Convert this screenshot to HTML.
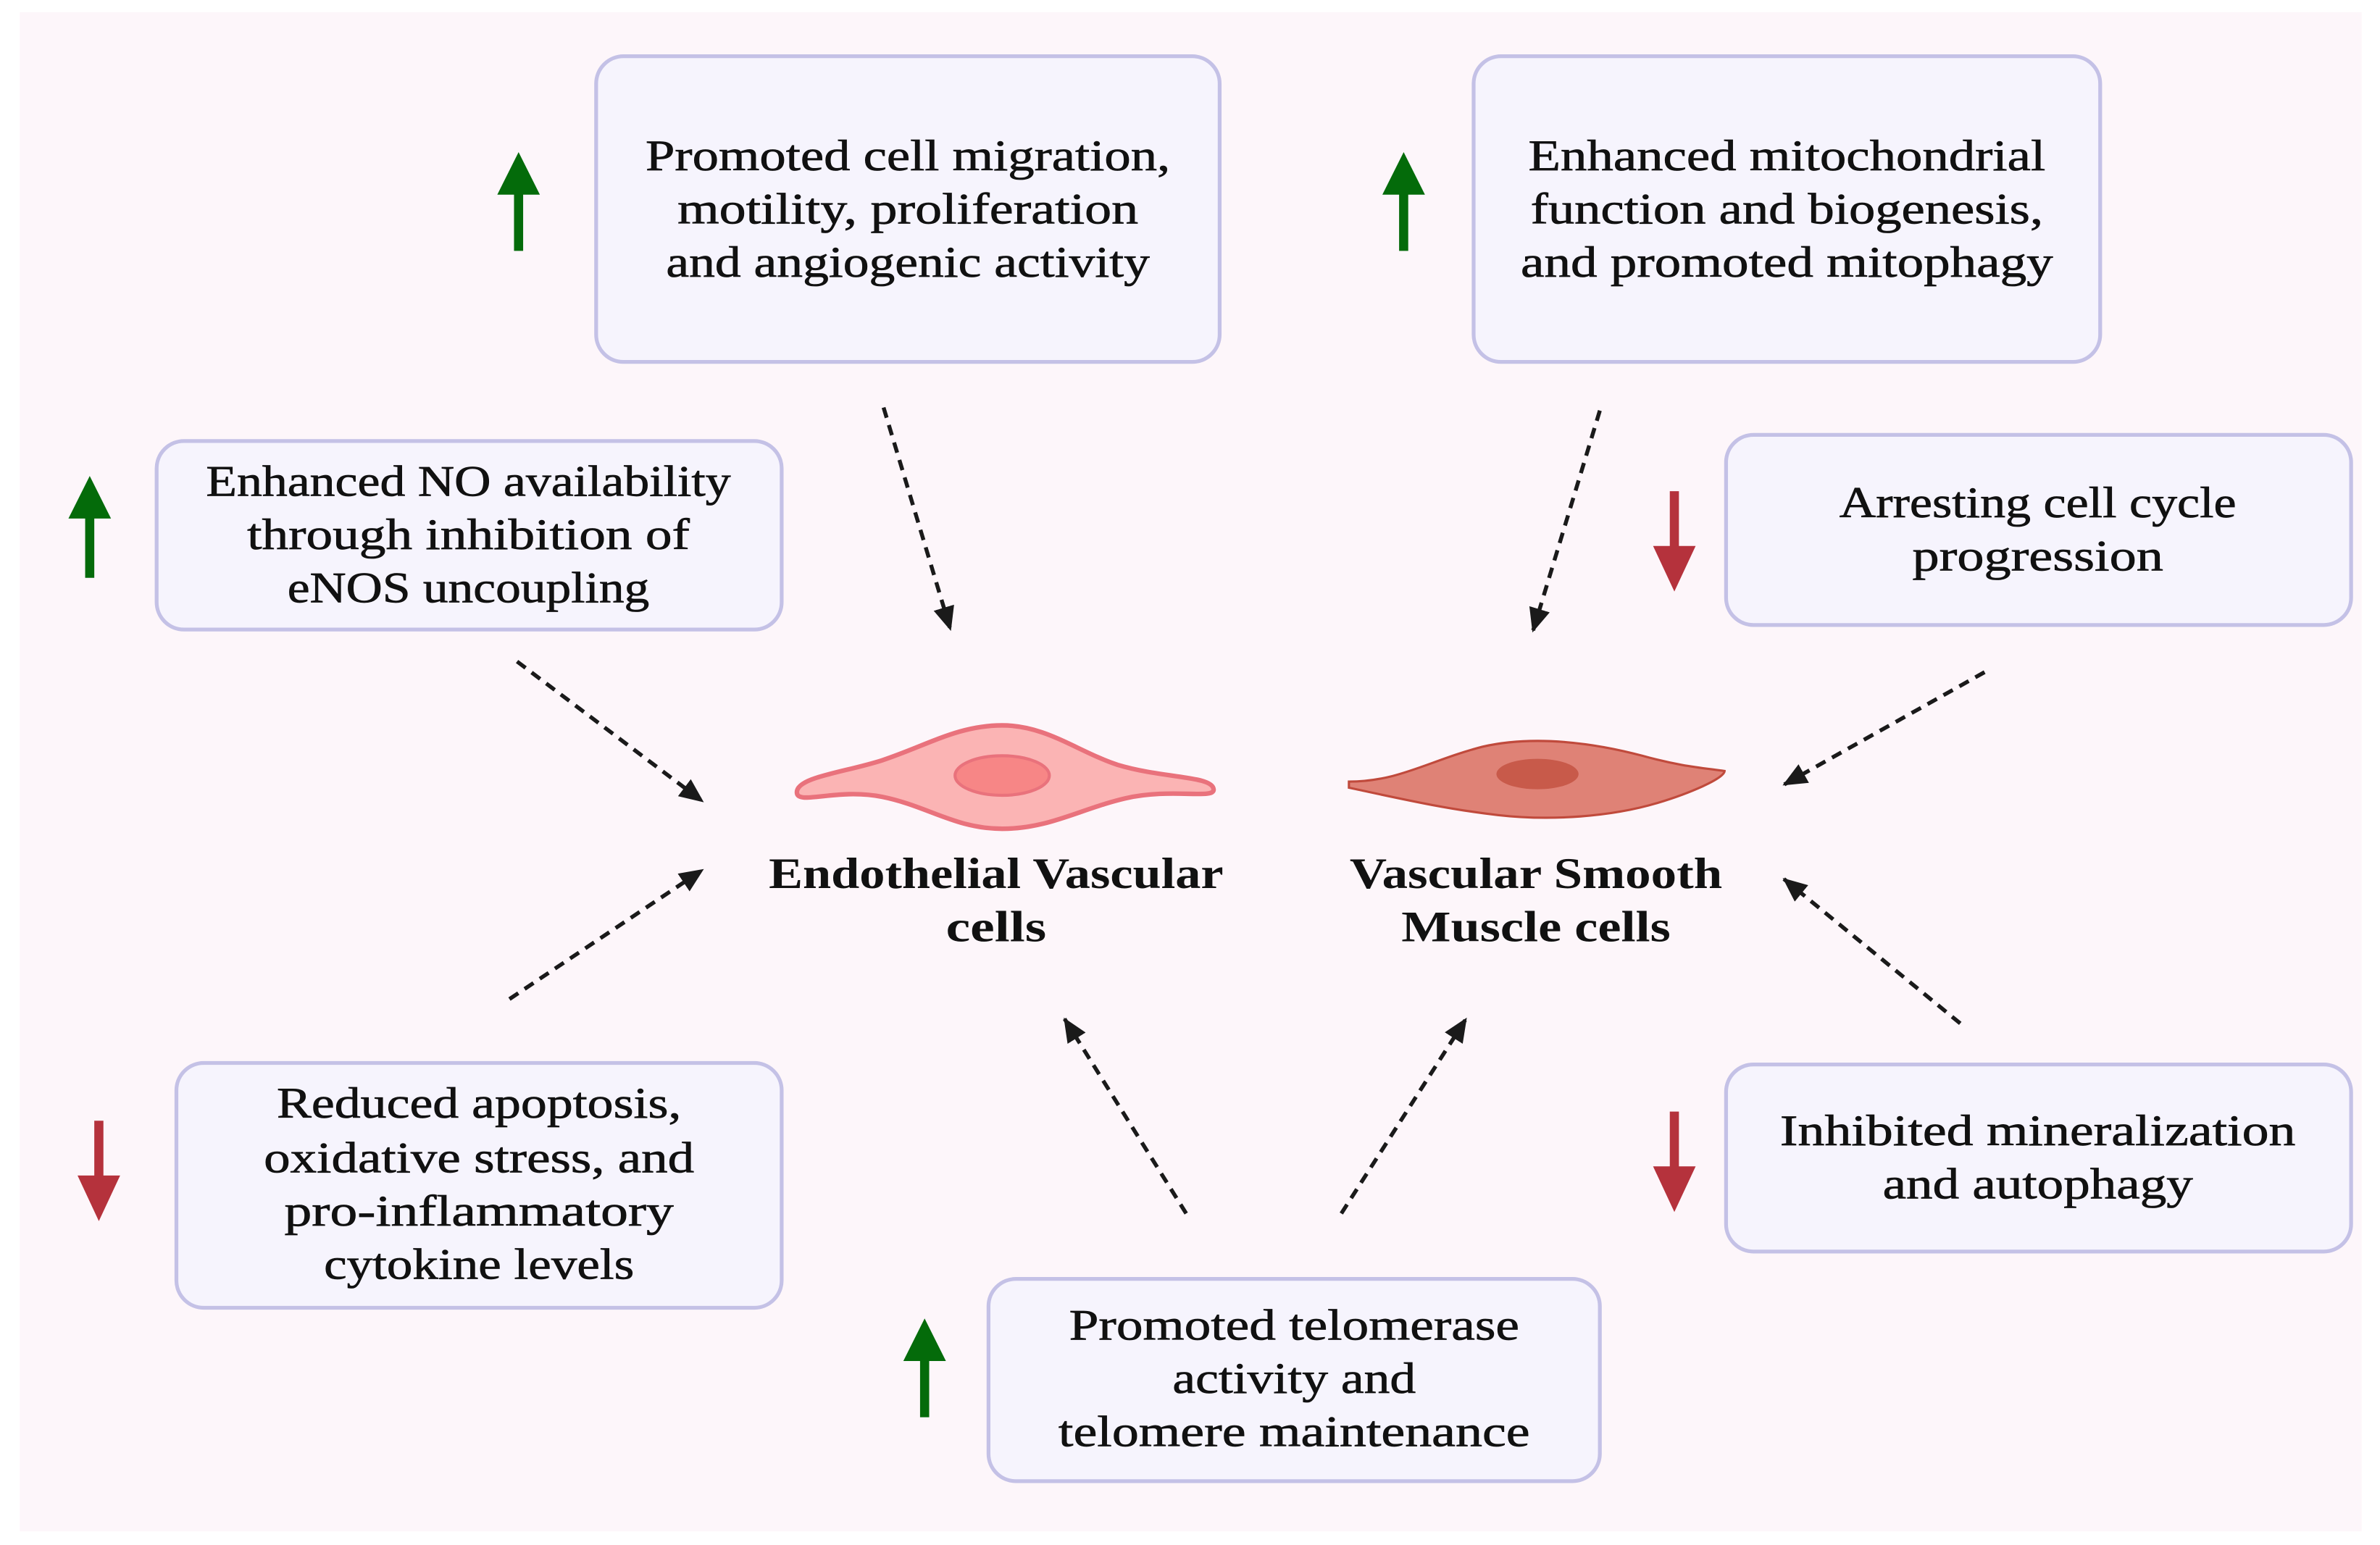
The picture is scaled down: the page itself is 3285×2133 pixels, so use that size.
<!DOCTYPE html>
<html><head><meta charset="utf-8"><style>
html,body{margin:0;padding:0;background:#fff;}
svg{display:block;}
text{font-family:"Liberation Serif",serif;font-size:29px;fill:#111;text-anchor:middle;stroke:#111;stroke-width:0.35px;}
.b{font-weight:bold;stroke-width:0;}
</style></head><body>
<svg width="3285" height="2133" viewBox="0 0 1565 1016" preserveAspectRatio="none" xmlns="http://www.w3.org/2000/svg">
<defs>
<marker id="ah2" markerWidth="16" markerHeight="14" refX="15" refY="7" orient="auto" markerUnits="userSpaceOnUse">
<path d="M0,0 L16,7 L0,14 Z" fill="#1a1a1a"/>
</marker>
</defs>
<rect x="0" y="0" width="1565" height="1016" fill="#ffffff"/>
<rect x="13" y="8" width="1540" height="999" fill="#fdf6fa"/>

<g fill="#f6f4fd" stroke="#c4c1e6" stroke-width="2.5">
<rect x="392" y="37" width="410" height="201" rx="18"/>
<rect x="969" y="37" width="412" height="201" rx="18"/>
<rect x="103" y="290" width="411" height="124" rx="18"/>
<rect x="1135" y="286" width="411" height="125" rx="18"/>
<rect x="116" y="699" width="398" height="161" rx="18"/>
<rect x="1135" y="700" width="411" height="123" rx="18"/>
<rect x="650" y="841" width="402" height="133" rx="18"/>
</g>

<text x="597" y="112" textLength="345" lengthAdjust="spacingAndGlyphs">Promoted cell migration,</text>
<text x="597" y="147" textLength="303" lengthAdjust="spacingAndGlyphs">motility, proliferation</text>
<text x="597" y="182" textLength="318" lengthAdjust="spacingAndGlyphs">and angiogenic activity</text>

<text x="1175" y="112" textLength="340" lengthAdjust="spacingAndGlyphs">Enhanced mitochondrial</text>
<text x="1175" y="147" textLength="337" lengthAdjust="spacingAndGlyphs">function and biogenesis,</text>
<text x="1175" y="182" textLength="350" lengthAdjust="spacingAndGlyphs">and promoted mitophagy</text>

<text x="308" y="326" textLength="345" lengthAdjust="spacingAndGlyphs">Enhanced NO availability</text>
<text x="308" y="361" textLength="291" lengthAdjust="spacingAndGlyphs">through inhibition of</text>
<text x="308" y="396" textLength="238" lengthAdjust="spacingAndGlyphs">eNOS uncoupling</text>

<text x="1340" y="340" textLength="261" lengthAdjust="spacingAndGlyphs">Arresting cell cycle</text>
<text x="1340" y="375" textLength="165" lengthAdjust="spacingAndGlyphs">progression</text>

<text x="315" y="735" textLength="266" lengthAdjust="spacingAndGlyphs">Reduced apoptosis,</text>
<text x="315" y="771" textLength="283" lengthAdjust="spacingAndGlyphs">oxidative stress, and</text>
<text x="315" y="806" textLength="256" lengthAdjust="spacingAndGlyphs">pro-inflammatory</text>
<text x="315" y="841" textLength="204" lengthAdjust="spacingAndGlyphs">cytokine levels</text>

<text x="1340" y="753" textLength="339" lengthAdjust="spacingAndGlyphs">Inhibited mineralization</text>
<text x="1340" y="788" textLength="204" lengthAdjust="spacingAndGlyphs">and autophagy</text>

<text x="851" y="881" textLength="296" lengthAdjust="spacingAndGlyphs">Promoted telomerase</text>
<text x="851" y="916" textLength="160" lengthAdjust="spacingAndGlyphs">activity and</text>
<text x="851" y="951" textLength="310" lengthAdjust="spacingAndGlyphs">telomere maintenance</text>

<text class="b" x="655" y="584" textLength="299" lengthAdjust="spacingAndGlyphs">Endothelial Vascular</text>
<text class="b" x="655" y="619" textLength="66" lengthAdjust="spacingAndGlyphs">cells</text>
<text class="b" x="1010" y="584" textLength="245" lengthAdjust="spacingAndGlyphs">Vascular Smooth</text>
<text class="b" x="1010" y="619" textLength="177" lengthAdjust="spacingAndGlyphs">Muscle cells</text>

<g fill="#046b0a">
<path d="M341,100 L355,128 L344,128 L344,165 L338,165 L338,128 L327,128 Z"/>
<path d="M923,100 L937,128 L926,128 L926,165 L920,165 L920,128 L909,128 Z"/>
<path d="M59,313 L73,341 L62,341 L62,380 L56,380 L56,341 L45,341 Z"/>
<path d="M608,867 L622,895 L611,895 L611,932 L605,932 L605,895 L594,895 Z"/>
</g>
<g fill="#b5323c">
<path d="M1101,389 L1115,359 L1104,359 L1104,323 L1098,323 L1098,359 L1087,359 Z"/>
<path d="M65,803 L79,773 L68,773 L68,737 L62,737 L62,773 L51,773 Z"/>
<path d="M1101,797 L1115,767 L1104,767 L1104,731 L1098,731 L1098,767 L1087,767 Z"/>
</g>

<g stroke="#1a1a1a" stroke-width="2.6" stroke-dasharray="7,5" fill="none" marker-end="url(#ah2)">
<line x1="581" y1="268" x2="625" y2="414"/>
<line x1="1052" y1="270" x2="1008" y2="415"/>
<line x1="340" y1="435" x2="462" y2="527"/>
<line x1="1305" y1="442" x2="1173" y2="516"/>
<line x1="335" y1="657" x2="462" y2="572"/>
<line x1="1289" y1="673" x2="1173" y2="578"/>
<line x1="780" y1="798" x2="700" y2="670"/>
<line x1="882" y1="798" x2="964" y2="670"/>
</g>

<path d="M524,521 C524,511 555,508 580,500 C610,490 630,477 659,477 C688,477 708,494 735,503 C765,512 797,510 798,519 C799,526 770,518 740,525 C710,532 690,545 659,545 C628,545 610,530 580,524 C550,518 524,530 524,521 Z" fill="#fbb4b4" stroke="#e9727c" stroke-width="3"/>
<ellipse cx="659" cy="510" rx="31" ry="13" fill="#f78686" stroke="#e9727c" stroke-width="2"/>
<path d="M887,514 C920,514 940,500 975,491 C1010,483 1050,489 1080,497 C1105,504 1120,505 1134,507 C1134,512 1110,522 1090,528 C1060,537 1020,540 985,536 C950,532 920,525 887,518 Z" fill="#df8276" stroke="#c04a3c" stroke-width="1.5"/>
<ellipse cx="1011" cy="509" rx="27" ry="10" fill="#c85a4a"/>
</svg>
</body></html>
